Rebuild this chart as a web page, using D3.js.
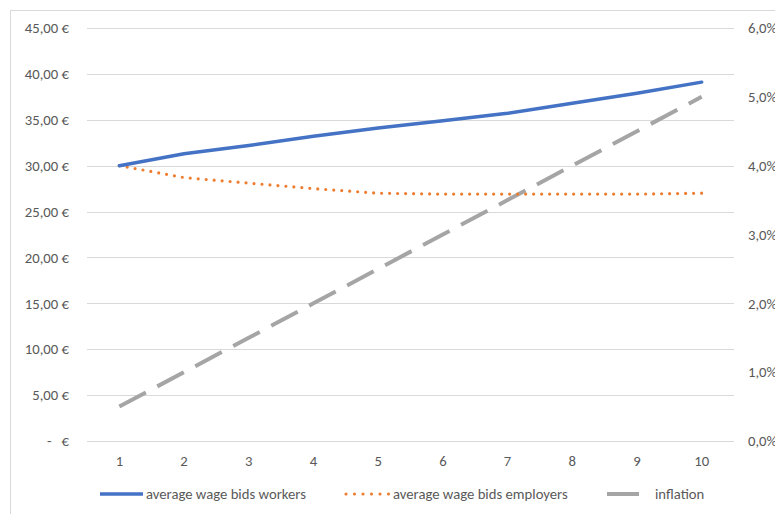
<!DOCTYPE html>
<html>
<head>
<meta charset="utf-8">
<script src="https://cdn.jsdelivr.net/npm/d3@7"></script>
<style>
  html, body { margin: 0; padding: 0; background: #fff; }
  svg text { font-family: Calibri, Carlito, "Open Sans", "Liberation Sans", sans-serif; fill: #595959; }
</style>
</head>
<body>
<svg id="chart" width="775" height="514"></svg>
<script>
// Periods on the x axis
const periods = [1, 2, 3, 4, 5, 6, 7, 8, 9, 10];
// Average wage bids (€)
const workers = [30.0, 31.3, 32.2, 33.2, 34.1, 34.9, 35.7, 36.8, 37.9, 39.1];
const employers = [30.0, 28.7, 28.1, 27.5, 27.0, 26.9, 26.9, 26.9, 26.9, 27.0];
// Inflation rate (fraction)
const inflation = [0.005, 0.010, 0.015, 0.020, 0.025, 0.030, 0.035, 0.040, 0.045, 0.050];
// Axis ticks
const euroTicks = [0, 5, 10, 15, 20, 25, 30, 35, 40, 45];
const pctTicks = [0, 0.01, 0.02, 0.03, 0.04, 0.05, 0.06];

(function () {
  const svg = d3.select("#chart");
  const plotLeft = 87, plotRight = 734, plotTop = 28, plotBottom = 441;
  const fontSize = 14.7;

  // Chart frame
  svg.append("rect")
    .attr("x", 10.5).attr("y", 10.5)
    .attr("width", 800).attr("height", 600)
    .attr("fill", "none").attr("stroke", "#D9D9D9");

  const x = d3.scaleBand().domain(periods).range([plotLeft, plotRight]);
  const yL = d3.scaleLinear().domain([0, 45]).range([plotBottom, plotTop]);
  const yR = d3.scaleLinear().domain([0, 0.06]).range([plotBottom, plotTop]);
  const cx = d => x(d) + x.bandwidth() / 2;

  const euroFmt = v => v === 0 ? "-\u00a0\u00a0\u00a0€" : d3.format(".2f")(v).replace(".", ",") + "\u00a0€";
  const pctFmt = v => d3.format(".1f")(v * 100).replace(".", ",") + "%";

  // Gridlines
  svg.append("g").selectAll("line").data(euroTicks).join("line")
    .attr("x1", plotLeft).attr("x2", plotRight)
    .attr("y1", d => Math.round(yL(d)) + 0.5).attr("y2", d => Math.round(yL(d)) + 0.5)
    .attr("stroke", "#D9D9D9").attr("stroke-width", 1);

  // Left axis (€)
  const axL = svg.append("g").attr("transform", `translate(${plotLeft},0)`)
    .call(d3.axisLeft(yL).tickValues(euroTicks).tickFormat(euroFmt).tickSize(0).tickPadding(18));
  axL.select(".domain").remove();
  axL.selectAll("text").attr("font-size", fontSize).attr("fill", "#595959");

  // Right axis (%)
  const axR = svg.append("g").attr("transform", `translate(${plotRight},0)`)
    .call(d3.axisRight(yR).tickValues(pctTicks).tickFormat(pctFmt).tickSize(0).tickPadding(14));
  axR.select(".domain").remove();
  axR.selectAll("text").attr("font-size", fontSize).attr("fill", "#595959");

  // Bottom axis (periods)
  const axB = svg.append("g").attr("transform", `translate(0,${plotBottom})`)
    .call(d3.axisBottom(x).tickSize(0).tickPadding(15));
  axB.select(".domain").remove();
  axB.selectAll("text").attr("font-size", fontSize).attr("fill", "#595959");

  // Series lines
  const lineL = d3.line().x((d, i) => cx(periods[i])).y(d => yL(d));
  const lineR = d3.line().x((d, i) => cx(periods[i])).y(d => yR(d));

  svg.append("path").datum(inflation).attr("d", lineR)
    .attr("fill", "none").attr("stroke", "#A5A5A5").attr("stroke-width", 4)
    .attr("stroke-dasharray", "30 13").attr("stroke-linecap", "butt");

  svg.append("path").datum(employers).attr("d", lineL)
    .attr("fill", "none").attr("stroke", "#ED7D31").attr("stroke-width", 3.2)
    .attr("stroke-dasharray", "0 8").attr("stroke-linecap", "round");

  svg.append("path").datum(workers).attr("d", lineL)
    .attr("fill", "none").attr("stroke", "#4472C4").attr("stroke-width", 3.5)
    .attr("stroke-linecap", "round").attr("stroke-linejoin", "round");

  // Legend
  const legend = [
    { label: "average wage bids workers", color: "#4472C4", x1: 100, x2: 143, tx: 146, dash: null, w: 3.5, cap: "butt" },
    { label: "average wage bids employers", color: "#ED7D31", x1: 346, x2: 389, tx: 393, dash: "0 8.5", w: 3.2, cap: "round" },
    { label: "inflation", color: "#A5A5A5", x1: 607, x2: 639, tx: 655, dash: null, w: 4, cap: "butt" }
  ];
  const ly = 494;
  const lg = svg.append("g").selectAll("g").data(legend).join("g");
  lg.append("line")
    .attr("x1", d => d.x1).attr("x2", d => d.x2).attr("y1", ly).attr("y2", ly)
    .attr("stroke", d => d.color).attr("stroke-width", d => d.w)
    .attr("stroke-linecap", d => d.cap)
    .attr("stroke-dasharray", d => d.dash);
  lg.append("text")
    .attr("x", d => d.tx).attr("y", ly).attr("dy", "0.35em")
    .attr("font-size", fontSize).text(d => d.label);
})();
</script>
</body>
</html>
